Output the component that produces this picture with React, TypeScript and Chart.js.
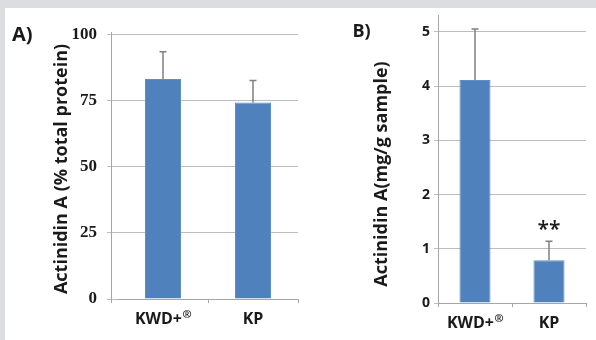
import React, { useEffect, useRef } from "react";
import { Chart, registerables } from "chart.js";

Chart.register(...registerables);

// ---- data ----
const categories = ["KWD+®", "KP"];
const valuesA = [83.3, 74.4];
const errorsA = [10.3, 8.3];
const ticksA = [0, 25, 50, 75, 100];
const axisMaxA = 101.1;
const titleA = "Actinidin A (% total protein)";

const valuesB = [4.11, 0.79];
const errorsB = [0.94, 0.35];
const marksB = ["", "**"];
const ticksB = [0, 1, 2, 3, 4, 5];
const axisMaxB = 5.31;
const titleB = "Actinidin A(mg/g sample)";

const SANS = "'Open Sans', Lato, sans-serif";
const SERIF = "'Liberation Serif', 'DejaVu Serif', serif";
const TEXT = "#1a1a1a";
const GRID = "#bdbdbd";
const AXIS = "#a6a6a6";
const ERR = "#808080";
const BAR = "#4f81bd";

const errorBarPlugin = {
  id: "errorBars",
  afterDatasetsDraw(chart: any, _args: any, opts: any) {
    const { ctx } = chart;
    const yScale = chart.scales.y;
    const meta = chart.getDatasetMeta(0);
    const data = chart.data.datasets[0].data;
    ctx.save();
    ctx.strokeStyle = opts.color;
    ctx.lineWidth = opts.width;
    meta.data.forEach((bar: any, i: number) => {
      const top = yScale.getPixelForValue(data[i] + opts.errors[i]);
      ctx.beginPath();
      ctx.moveTo(bar.x, bar.y);
      ctx.lineTo(bar.x, top);
      ctx.moveTo(bar.x - opts.cap / 2, top);
      ctx.lineTo(bar.x + opts.cap / 2, top);
      ctx.stroke();
      const mark = opts.marks ? opts.marks[i] : "";
      if (mark) {
        ctx.fillStyle = TEXT;
        ctx.font = `${opts.markWeight} ${opts.markSize}px ${SANS}`;
        ctx.textAlign = "center";
        ctx.textBaseline = "alphabetic";
        ctx.fillText(mark, bar.x, top - opts.markGap);
      }
    });
    ctx.restore();
  },
};

// category labels, with a trailing ® set as a small superscript
const catLabelPlugin = {
  id: "catLabels",
  afterDraw(chart: any, _args: any, opts: any) {
    const { ctx, chartArea } = chart;
    const xs = chart.scales.x;
    const labels: string[] = chart.data.labels;
    const y = chartArea.bottom + opts.baseline;
    ctx.save();
    ctx.fillStyle = TEXT;
    ctx.textBaseline = "alphabetic";
    ctx.textAlign = "left";
    labels.forEach((lab, i) => {
      const sup = lab.endsWith("®") ? "®" : "";
      const main = sup ? lab.slice(0, -1) : lab;
      ctx.font = `bold ${opts.size}px ${SANS}`;
      const wMain = ctx.measureText(main).width;
      ctx.font = `bold ${opts.supSize}px ${SANS}`;
      const wSup = sup ? ctx.measureText(sup).width : 0;
      const cx = xs.getPixelForTick(i);
      const x0 = cx - (wMain + wSup) / 2;
      ctx.font = `bold ${opts.size}px ${SANS}`;
      ctx.fillText(main, x0, y);
      if (sup) {
        ctx.font = `bold ${opts.supSize}px ${SANS}`;
        ctx.fillText(sup, x0 + wMain + 0.5, y - opts.supRaise);
      }
    });
    ctx.restore();
  },
};

// draws the value axis line a little left of the plot area (panel A only)
const axisLinePlugin = {
  id: "axisLine",
  afterDraw(chart: any, _args: any, opts: any) {
    if (!opts || !opts.enabled) return;
    const { ctx, chartArea } = chart;
    const x = Math.round(chartArea.left - opts.shift) + 0.5;
    ctx.save();
    ctx.strokeStyle = AXIS;
    ctx.lineWidth = 1;
    ctx.beginPath();
    ctx.moveTo(x, chartArea.top);
    ctx.lineTo(x, chartArea.bottom + opts.below);
    ctx.stroke();
    ctx.restore();
  },
};

function makeConfig(p: any) {
  return {
    type: "bar" as const,
    data: {
      labels: categories,
      datasets: [
        {
          data: p.values,
          backgroundColor: BAR,
          borderColor: "#5d8dc6",
          borderWidth: 1,
          barPercentage: p.barPct,
          categoryPercentage: 1,
        },
      ],
    },
    plugins: [errorBarPlugin, axisLinePlugin, catLabelPlugin],
    options: {
      responsive: false,
      animation: false as const,
      layout: { padding: p.padding },
      plugins: {
        legend: { display: false },
        tooltip: { enabled: false },
        errorBars: {
          errors: p.errors,
          marks: p.marks,
          color: ERR,
          width: 1.5,
          cap: 7,
          markSize: 21,
          markWeight: "600",
          markGap: 5,
        },
        axisLine: p.axisLine,
        catLabels: { size: 16, supSize: 11, supRaise: 6, baseline: 25 },
      },
      scales: {
        x: {
          afterFit: (s: any) => {
            s.height = p.xHeight;
          },
          grid: {
            offset: true,
            drawOnChartArea: false,
            drawTicks: true,
            tickLength: 4,
            color: (c: any) => (p.hideFirstXTick && c.index === 0 ? "rgba(0,0,0,0)" : AXIS),
          },
          border: { display: true, color: AXIS },
          ticks: { display: false },
        },
        y: {
          min: 0,
          max: p.max,
          afterFit: (s: any) => {
            s.width = p.yWidth;
          },
          afterBuildTicks: (s: any) => {
            s.ticks = p.ticks.map((v: number) => ({ value: v }));
          },
          grid: {
            color: GRID,
            drawTicks: true,
            tickLength: p.yTickLen,
          },
          border: { display: p.yBorder, color: AXIS },
          ticks: {
            color: TEXT,
            padding: p.yPad,
            font: p.tickFont,
          },
          title: { display: false },
        },
      },
    },
  };
}

function Panel(props: { cfg: any; width: number; height: number; left: number }) {
  const ref = useRef<HTMLCanvasElement | null>(null);
  useEffect(() => {
    if (!ref.current) return;
    const chart = new Chart(ref.current, makeConfig(props.cfg) as any);
    return () => chart.destroy();
  }, []);
  return (
    <canvas
      ref={ref}
      width={props.width}
      height={props.height}
      style={{ position: "absolute", left: props.left, top: 0, width: props.width, height: props.height, display: "block" }}
    />
  );
}

const cfgA = {
  values: valuesA,
  errors: errorsA,
  marks: null,
  ticks: ticksA,
  max: axisMaxA,
  barPct: 0.4,
  padding: { left: 50, top: 32, right: 2, bottom: 10 },
  yWidth: 68,
  yTickLen: 11,
  yPad: 10,
  yBorder: false,
  tickFont: { family: SERIF, size: 17, weight: "bold" },
  xHeight: 31,
  hideFirstXTick: true,
  axisLine: { enabled: true, shift: 7, below: 4 },
};

const cfgB = {
  values: valuesB,
  errors: errorsB,
  marks: marksB,
  ticks: ticksB,
  max: axisMaxB,
  barPct: 0.42,
  padding: { left: 67, top: 15, right: 10, bottom: 8 },
  yWidth: 71,
  yTickLen: 4,
  yPad: 4,
  yBorder: true,
  tickFont: { family: SANS, size: 14, weight: "bold" },
  xHeight: 29,
  hideFirstXTick: false,
  axisLine: { enabled: false },
};

const textBase: React.CSSProperties = {
  position: "absolute",
  fontFamily: SANS,
  fontWeight: "bold",
  color: TEXT,
  whiteSpace: "nowrap",
};

function AxisTitle(props: { text: string; cx: number; cy: number; size: number }) {
  return (
    <div
      style={{
        ...textBase,
        left: props.cx,
        top: props.cy,
        fontSize: props.size,
        lineHeight: `${props.size}px`,
        transform: "translate(-50%, -50%) rotate(-90deg)",
      }}
    >
      {props.text}
    </div>
  );
}

export default function App() {
  return (
    <div
      style={{
        position: "fixed",
        left: 0,
        top: 0,
        width: 596,
        height: 340,
        background: "#dcdde0",
        overflow: "hidden",
      }}
    >
      <div style={{ position: "absolute", left: 5, top: 8, right: 0, bottom: 0, background: "#ffffff" }} />
      <Panel cfg={cfgA} width={300} height={340} left={0} />
      <Panel cfg={cfgB} width={296} height={340} left={300} />
      <AxisTitle text={titleA} cx={60} cy={168.5} size={18} />
      <AxisTitle text={titleB} cx={380} cy={173.5} size={18} />
      <div style={{ ...textBase, left: 12, top: 23.5, fontSize: 20, lineHeight: "20px" }}>A)</div>
      <div style={{ ...textBase, left: 352.5, top: 21, fontSize: 18, lineHeight: "18px" }}>B)</div>
    </div>
  );
}
